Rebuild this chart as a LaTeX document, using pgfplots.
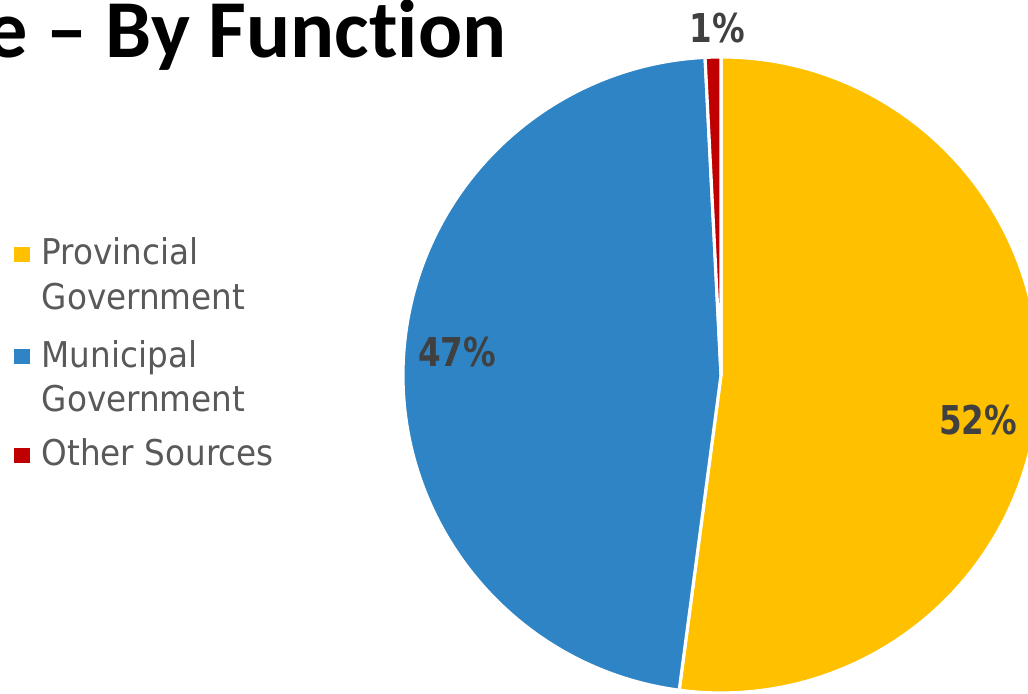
\documentclass[border=0pt]{standalone}
\usepackage{pgfplots}
\pgfplotsset{compat=1.18}
\usepackage{pgfplotstable}
\usepackage{fontspec}
\setmainfont{DejaVu Sans}
\newfontfamily\titlefont[Ligatures={NoCommon}]{Carlito}
\newfontfamily\legfont[FakeStretch=0.92]{DejaVu Sans}
\newfontfamily\labfont[FakeStretch=0.82]{DejaVu Sans}

\definecolor{provyellow}{HTML}{FFC000}
\definecolor{munblue}{HTML}{2E84C4}
\definecolor{othred}{HTML}{C00000}
\definecolor{legtext}{HTML}{595959}
\definecolor{labtext}{HTML}{404040}

% shares in percent, clockwise from 12 o'clock
\pgfplotstableread{
share
52.1
47.1
0.8
}\piedata

\begin{document}
\begin{tikzpicture}
\useasboundingbox (0,0) rectangle (10.28,6.94);
\clip (0,0) rectangle (10.28,6.94);

\pgfplotstablegetelem{0}{share}\of\piedata \let\sA\pgfplotsretval
\pgfplotstablegetelem{1}{share}\of\piedata \let\sB\pgfplotsretval
\pgfplotstablegetelem{2}{share}\of\piedata \let\sC\pgfplotsretval
\pgfmathsetmacro\aA{90}
\pgfmathsetmacro\aB{\aA-3.6*\sA}
\pgfmathsetmacro\aC{\aB-3.6*\sB}
\pgfmathsetmacro\aD{\aC-3.6*\sC}

\begin{axis}[
    at={(0,0)}, anchor=south west,
    x=1cm, y=1cm,
    xmin=-7.21, xmax=3.07, ymin=-3.19, ymax=3.75,
    hide axis
]
\filldraw[provyellow, draw=white, line width=0.9pt] (axis cs:0,0) -- ++(\aA:3.18cm) arc[start angle=\aA, end angle=\aB, radius=3.18cm] -- cycle;
\filldraw[munblue, draw=white, line width=0.9pt] (axis cs:0,0) -- ++(\aB:3.18cm) arc[start angle=\aB, end angle=\aC, radius=3.18cm] -- cycle;
\filldraw[othred, draw=white, line width=0.9pt] (axis cs:0,0) -- ++(\aC:3.18cm) arc[start angle=\aC, end angle=\aD, radius=3.18cm] -- cycle;

\node[text=labtext, font=\labfont\bfseries\fontsize{11.3pt}{13pt}\selectfont] at (axis cs:2.57,-0.45) {52\%};
\node[text=labtext, font=\labfont\bfseries\fontsize{11.3pt}{13pt}\selectfont] at (axis cs:-2.64,0.23) {47\%};
\node[text=labtext, font=\labfont\bfseries\fontsize{11.3pt}{13pt}\selectfont] at (axis cs:-0.04,3.47) {1\%};
\end{axis}

% title (cut off on the left as in the slide)
\node[anchor=base east, inner sep=0pt, font=\titlefont\bfseries\fontsize{23.4pt}{28pt}\selectfont] at (5.07,6.36) {e – By Function};

% legend
\fill[provyellow] (0.14,4.32) rectangle (0.30,4.47);
\fill[munblue] (0.14,3.30) rectangle (0.30,3.45);
\fill[othred] (0.14,2.31) rectangle (0.30,2.46);
\begin{scope}[every node/.style={anchor=base west, inner sep=0pt, text=legtext, font=\legfont\fontsize{10.1pt}{12pt}\selectfont}]
\node at (0.41,4.29) {Provincial};
\node at (0.41,3.84) {Government};
\node at (0.41,3.265) {Municipal};
\node at (0.41,2.82) {Government};
\node at (0.41,2.28) {Other Sources};
\end{scope}
\end{tikzpicture}
\end{document}
